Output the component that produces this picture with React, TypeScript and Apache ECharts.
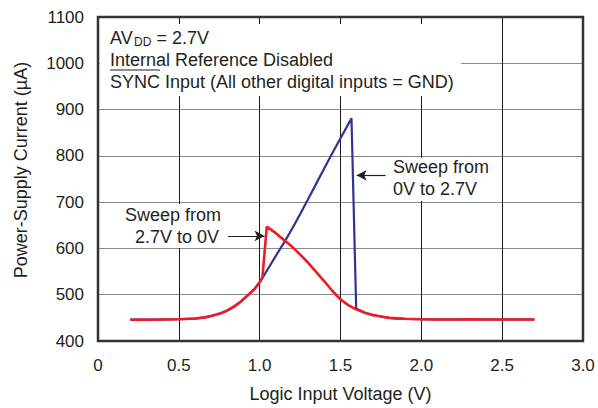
import React, { useEffect, useRef } from "react";
import * as echarts from "echarts";

// ---- Data ----
const sweepUpV = [0.2, 0.3, 0.4, 0.5, 0.6, 0.66, 0.7, 0.76, 0.8, 0.84, 0.88, 0.93, 0.97, 1.0, 1.01, 1.05, 1.1, 1.15, 1.2, 1.25, 1.3, 1.35, 1.4, 1.45, 1.5, 1.568, 1.597, 1.65, 1.7, 1.75, 1.8, 1.85, 1.9, 2.0, 2.1, 2.2, 2.3, 2.4, 2.5, 2.6, 2.7];
const sweepUpI = [446, 446, 446.5, 447, 448.5, 451, 454, 460, 466, 474, 484, 500, 513, 527, 532, 555, 584, 612, 642, 674, 707, 740, 773, 806, 838, 881, 470, 461, 456, 453, 450, 448.5, 447.5, 447, 446.5, 446.5, 447, 446.5, 446.5, 446.5, 446.5];

const sweepDownV = [0.2, 0.3, 0.4, 0.5, 0.6, 0.66, 0.7, 0.76, 0.8, 0.84, 0.88, 0.93, 0.97, 1.0, 1.017, 1.044, 1.1, 1.15, 1.2, 1.25, 1.3, 1.35, 1.4, 1.45, 1.5, 1.55, 1.6, 1.65, 1.7, 1.75, 1.8, 1.9, 2.0, 2.1, 2.2, 2.3, 2.4, 2.5, 2.6, 2.7];
const sweepDownI = [446, 446, 446.5, 447, 448.5, 451, 454, 460, 466, 474, 484, 500, 513, 527, 537, 647, 633, 618, 604, 587, 569, 549, 529, 508, 490, 477, 468, 461, 456, 453, 450, 448, 447, 446.5, 446.5, 447, 446.5, 446.5, 446.5, 446.5];

// arrows [fromV, fromI, toV, toI]
const arrowUp = [1.779, 758, 1.6, 758];
const arrowDown = [0.804, 627, 1.03, 627];

const xTickValues = [0, 0.5, 1.0, 1.5, 2.0, 2.5, 3.0];
const xTickLabels = ["0", "0.5", "1.0", "1.5", "2.0", "2.5", "3.0"];
const yTickValues = [400, 500, 600, 700, 800, 900, 1000, 1100];
const yTickLabels = ["400", "500", "600", "700", "800", "900", "1000", "1100"];

const X_MIN = 0, X_MAX = 3, X_STEP = 0.5;
const Y_MIN = 400, Y_MAX = 1100, Y_STEP = 100;

const FONT = "'Liberation Sans', Arial, Helvetica, sans-serif";
const INK = "#231f20";

function pairs(xs: number[], ys: number[]) {
  return xs.map((x, i) => [x, ys[i]]);
}

function lookup(values: number[], labels: string[]) {
  return (v: number) => {
    const i = values.findIndex((t) => Math.abs(t - v) < 1e-6);
    return i >= 0 ? labels[i] : "";
  };
}

function txt(x: number, y: number, text: string, size = 18, extra: any = {}) {
  return {
    type: "text",
    x,
    y,
    z: 20,
    silent: true,
    style: {
      text,
      fill: INK,
      fontSize: size,
      fontFamily: FONT,
      align: "left",
      verticalAlign: "middle",
      textAlign: "left",
      textVerticalAlign: "middle",
    },
    ...extra,
  };
}

function whiteBox(x: number, y: number, w: number, h: number) {
  return {
    type: "rect",
    z: 10,
    silent: true,
    shape: { x, y, width: w, height: h },
    style: { fill: "#ffffff" },
  };
}

export default function App() {
  const ref = useRef<HTMLDivElement>(null);

  useEffect(() => {
    if (!ref.current) return;
    const chart = echarts.init(ref.current, undefined, { renderer: "svg" });

    const arrowLine = (a: number[]) => ({
      silent: true,
      symbol: ["none", "arrow"],
      symbolSize: [8, 10],
      label: { show: false },
      lineStyle: { color: INK, width: 1.2, type: "solid" },
      emphasis: { disabled: true },
      data: [[{ coord: [a[0], a[1]] }, { coord: [a[2], a[3]] }]],
    });

    chart.setOption({
      animation: false,
      grid: {
        left: 98,
        right: 15,
        top: 17,
        bottom: 66,
        show: true,
        borderColor: "#333333",
        borderWidth: 2.5,
        backgroundColor: "transparent",
        z: 3,
      },
      xAxis: {
        type: "value",
        min: X_MIN,
        max: X_MAX,
        interval: X_STEP,
        name: "Logic Input Voltage (V)",
        nameLocation: "middle",
        nameGap: 44,
        nameTextStyle: { fontSize: 18, fontFamily: FONT, color: INK },
        axisLine: { show: false },
        axisTick: { show: false },
        axisLabel: {
          fontSize: 17,
          fontFamily: FONT,
          color: INK,
          margin: 16,
          formatter: lookup(xTickValues, xTickLabels),
        },
        splitLine: { show: true, lineStyle: { color: "#1a1a1a", width: 1 } },
      },
      yAxis: {
        type: "value",
        min: Y_MIN,
        max: Y_MAX,
        interval: Y_STEP,
        axisLine: { show: false },
        axisTick: { show: false },
        axisLabel: {
          fontSize: 17,
          fontFamily: FONT,
          color: INK,
          margin: 14,
          formatter: lookup(yTickValues, yTickLabels),
        },
        splitLine: { show: true, lineStyle: { color: "#8a8a8a", width: 1.2 } },
      },
      series: [
        {
          type: "line",
          name: "Sweep from 0V to 2.7V",
          data: pairs(sweepUpV, sweepUpI),
          showSymbol: false,
          symbol: "none",
          smooth: false,
          lineStyle: { color: "#2d3591", width: 2.2 },
          z: 4,
          markLine: arrowLine(arrowUp),
        },
        {
          type: "line",
          name: "Sweep from 2.7V to 0V",
          data: pairs(sweepDownV, sweepDownI),
          showSymbol: false,
          symbol: "none",
          smooth: false,
          lineStyle: { color: "#ed1c24", width: 2.6 },
          z: 5,
          markLine: arrowLine(arrowDown),
        },
      ],
      graphic: [
        whiteBox(100, 24, 361, 72),
        txt(110, 38, "AV"),
        txt(134, 41.7, "DD", 12),
        txt(151.5, 38, " = 2.7V"),
        txt(110, 60, "Internal Reference Disabled"),
        txt(110, 82, "SYNC Input (All other digital inputs = GND)"),
        {
          type: "line",
          z: 20,
          silent: true,
          shape: { x1: 110, y1: 70, x2: 160, y2: 70 },
          style: { stroke: INK, lineWidth: 1 },
        },
        whiteBox(388, 158, 107, 43),
        txt(393, 167.3, "Sweep from"),
        txt(393, 189.3, "0V to 2.7V"),
        whiteBox(120, 204, 104, 44),
        txt(125, 215, "Sweep from"),
        txt(135, 236.6, "2.7V to 0V"),
        {
          type: "text",
          x: 21,
          y: 170,
          rotation: Math.PI / 2,
          z: 20,
          silent: true,
          style: {
            text: "Power-Supply Current (µA)",
            fill: INK,
            fontSize: 18,
            fontFamily: FONT,
            align: "center",
            verticalAlign: "middle",
            textAlign: "center",
            textVerticalAlign: "middle",
          },
        },
      ],
    });

    return () => chart.dispose();
  }, []);

  return <div ref={ref} style={{ width: 598, height: 408, position: "absolute", left: 0, top: 0 }} />;
}
